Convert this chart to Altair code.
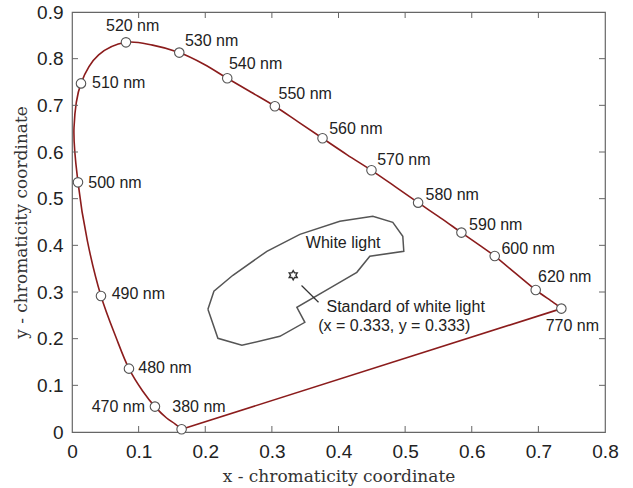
import altair as alt
import pandas as pd

# ---------------- data ----------------
# spectral locus, in wavelength order (380 nm ... 770 nm)
locus_nm = [380, 450, 460, 470, 475, 480, 485, 490, 495, 500, 505, 510, 515,
            520, 525, 530, 535, 540, 545, 550, 555, 560, 565, 570, 575, 580, 585,
            590, 595, 600, 610, 620, 640, 660, 770]
locus_x = [0.1645, 0.155, 0.142, 0.1245, 0.106, 0.0855, 0.066, 0.0435, 0.023,
           0.009, 0.003, 0.0135, 0.040, 0.081, 0.121, 0.161, 0.198, 0.233, 0.269,
           0.3045, 0.340, 0.376, 0.413, 0.4495, 0.485, 0.5195, 0.553, 0.5845, 0.611,
           0.6345, 0.669, 0.696, 0.719, 0.729, 0.7345]
locus_y = [0.0058, 0.017, 0.030, 0.0544, 0.088, 0.1358, 0.203, 0.2915, 0.41,
           0.535, 0.652, 0.747, 0.808, 0.835, 0.829, 0.813, 0.788, 0.758, 0.728,
           0.698, 0.664, 0.6294, 0.594, 0.5608, 0.526, 0.4915, 0.459, 0.4273, 0.401,
           0.377, 0.336, 0.3043, 0.281, 0.271, 0.2644]
# straight purple line closing the locus: 770 nm -> 380 nm
purple_x = [0.7345, 0.1645]
purple_y = [0.2644, 0.0058]

mark_nm = [380, 470, 480, 490, 500, 510, 520, 530, 540, 550, 560, 570, 580, 590,
           600, 620, 770]
mark_x = [0.1645, 0.1245, 0.0855, 0.0435, 0.009, 0.0135, 0.081, 0.161, 0.233, 0.3045,
          0.376, 0.4495, 0.5195, 0.5845, 0.6345, 0.696, 0.7345]
mark_y = [0.0058, 0.0544, 0.1358, 0.2915, 0.535, 0.747, 0.835, 0.813, 0.758, 0.698,
          0.6294, 0.5608, 0.4915, 0.4273, 0.377, 0.3043, 0.2644]
# left edge / middle of each wavelength label, in chart coordinates
label_x = [0.1505, 0.0296, 0.0995, 0.0596, 0.0245, 0.030, 0.051, 0.1695, 0.2355, 0.310,
           0.386, 0.458, 0.5306, 0.596, 0.6446, 0.6995, 0.711]
label_y = [0.0544, 0.0544, 0.1365, 0.2966, 0.5336, 0.7487, 0.870, 0.8379, 0.7894, 0.7236,
           0.6486, 0.5829, 0.5079, 0.4429, 0.393, 0.333, 0.2271]

# "White light" region outline
white_x = [0.204, 0.213, 0.2415, 0.2925, 0.342, 0.402, 0.4515, 0.4815, 0.4965, 0.498,
           0.447, 0.4275, 0.3915, 0.3375, 0.3495, 0.312, 0.255, 0.219, 0.204]
white_y = [0.2629, 0.3015, 0.3358, 0.3872, 0.4236, 0.4515, 0.4622, 0.4494, 0.4194, 0.3872,
           0.3765, 0.3422, 0.3122, 0.2672, 0.2351, 0.2051, 0.1858, 0.2008, 0.2629]

star_x = [0.332]
star_y = [0.336]
leader_x, leader_y = [0.3445], [0.314]
leader_x2, leader_y2 = [0.370], [0.278]

note_text = ["White light", "Standard of white light", "(x = 0.333, y = 0.333)"]
note_x = [0.351, 0.382, 0.3695]
note_y = [0.4043, 0.267, 0.2276]

x_axis_values = [0, 0.1, 0.2, 0.3, 0.4, 0.5, 0.6, 0.7, 0.8]
y_axis_values = [0, 0.1, 0.2, 0.3, 0.4, 0.5, 0.6, 0.7, 0.8, 0.9]
x_ticks = [0.1, 0.2, 0.3, 0.4, 0.5, 0.6, 0.7]
y_ticks = [0.1, 0.2, 0.3, 0.4, 0.5, 0.6, 0.7, 0.8]

# ---------------- tables ----------------
locus = pd.DataFrame({"nm": locus_nm, "x": locus_x, "y": locus_y,
                      "o": list(range(len(locus_nm)))})
purple = pd.DataFrame({"x": purple_x, "y": purple_y, "o": [0, 1]})
marks = pd.DataFrame({"nm": mark_nm, "x": mark_x, "y": mark_y,
                      "lx": label_x, "ly": label_y,
                      "txt": [f"{n} nm" for n in mark_nm]})
white = pd.DataFrame({"x": white_x, "y": white_y, "o": list(range(len(white_x)))})
star = pd.DataFrame({"x": star_x, "y": star_y})
leader = pd.DataFrame({"x": leader_x, "y": leader_y, "x2": leader_x2, "y2": leader_y2})
notes = pd.DataFrame({"t": note_text, "x": note_x, "y": note_y})
xt = pd.DataFrame({"v": x_ticks})
yt = pd.DataFrame({"v": y_ticks})

W, H = 533, 420
TICK = 6
SANS = "Liberation Sans"
SERIF = "DejaVu Serif"
LOCUS_COLOR = "#8b1c1c"

sx = alt.Scale(domain=[0, 0.8], nice=False, zero=False)
sy = alt.Scale(domain=[0, 0.9], nice=False, zero=False)
lab_expr = "datum.value == 0 ? '0' : format(datum.value, '.1f')"
ax_x = alt.Axis(values=x_axis_values, labelExpr=lab_expr, title="x - chromaticity coordinate",
                grid=False, domain=False, ticks=False, labelFlush=False,
                labelFont=SANS, labelFontSize=19, labelColor="#222", labelPadding=10,
                titleFont=SERIF, titleFontSize=17, titleFontWeight="normal", titleColor="#333",
                titleX=266.5, titleY=49, titleBaseline="alphabetic", titleAlign="center")
ax_y = alt.Axis(values=y_axis_values, labelExpr=lab_expr, title="y - chromaticity coordinate",
                grid=False, domain=False, ticks=False, labelFlush=False,
                labelFont=SANS, labelFontSize=19, labelColor="#222", labelPadding=9,
                titleFont=SERIF, titleFontSize=17, titleFontWeight="normal", titleColor="#333",
                titleX=-46, titleY=210, titleBaseline="alphabetic", titleAlign="center",
                titleAngle=270)


def X(f):
    return alt.X(f, type="quantitative", scale=sx, axis=ax_x)


def Y(f):
    return alt.Y(f, type="quantitative", scale=sy, axis=ax_y)


region = alt.Chart(white).mark_line(color="#555", strokeWidth=1.5).encode(
    x=X("x"), y=Y("y"), order="o:Q")

lead = alt.Chart(leader).mark_rule(color="#333", strokeWidth=1.2).encode(
    x=X("x"), y=Y("y"), x2="x2", y2="y2")

hexagram = ("M0,-1 L0.2887,-0.5 L0.866,-0.5 L0.577,0 L0.866,0.5 L0.2887,0.5 L0,1 "
            "L-0.2887,0.5 L-0.866,0.5 L-0.577,0 L-0.866,-0.5 L-0.2887,-0.5 Z")
star_mark = alt.Chart(star).mark_point(shape=hexagram, filled=False, stroke="#333",
                                       strokeWidth=1.4, size=85, opacity=1).encode(
    x=X("x"), y=Y("y"))

curve = alt.Chart(locus).mark_line(color=LOCUS_COLOR, strokeWidth=1.6,
                                   interpolate="catmull-rom").encode(
    x=X("x"), y=Y("y"), order="o:Q")

purple_line = alt.Chart(purple).mark_line(color=LOCUS_COLOR, strokeWidth=1.6).encode(
    x=X("x"), y=Y("y"), order="o:Q")

dots = alt.Chart(marks).mark_point(shape="circle", filled=True, fill="white",
                                   stroke="#555", strokeWidth=1.1, size=90, opacity=1).encode(
    x=X("x"), y=Y("y"))

labels = alt.Chart(marks).mark_text(font=SANS, fontSize=16, color="#222",
                                    align="left", baseline="middle").encode(
    x=X("lx"), y=Y("ly"), text="txt:N")

note_marks = alt.Chart(notes).mark_text(font=SANS, fontSize=16, color="#222",
                                        align="left", baseline="middle").encode(
    x=X("x"), y=Y("y"), text="t:N")

tick_style = dict(color="#666", strokeWidth=1)
t_bottom = alt.Chart(xt).mark_rule(**tick_style).encode(
    x=X("v"), y=alt.value(H), y2=alt.value(H - TICK))
t_top = alt.Chart(xt).mark_rule(**tick_style).encode(
    x=X("v"), y=alt.value(0), y2=alt.value(TICK))
t_left = alt.Chart(yt).mark_rule(**tick_style).encode(
    y=Y("v"), x=alt.value(0), x2=alt.value(TICK))
t_right = alt.Chart(yt).mark_rule(**tick_style).encode(
    y=Y("v"), x=alt.value(W), x2=alt.value(W - TICK))

chart = alt.layer(
    region, lead, star_mark, curve, purple_line, dots, labels, note_marks,
    t_bottom, t_top, t_left, t_right
).properties(
    width=W, height=H,
    autosize=alt.AutoSizeParams(type="none"),
    padding={"left": 72, "top": 12, "right": 28, "bottom": 56},
    background="white",
).configure_view(stroke="#666", strokeWidth=1.2)

chart.save("out.html", embed_options={"renderer": "svg", "actions": False})
